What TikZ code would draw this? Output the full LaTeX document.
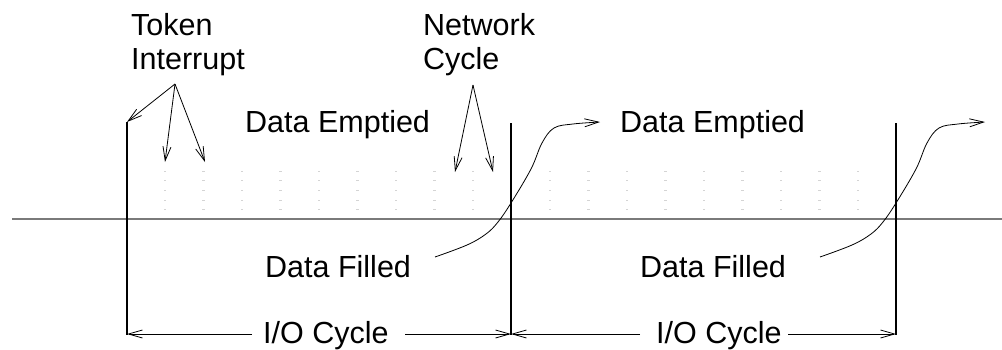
\documentclass[tikz,border=0pt]{standalone}
\usepackage{fontspec}
\setmainfont{Liberation Sans}
\usetikzlibrary{arrows.meta}
\begin{document}
\begin{tikzpicture}[x=1pt,y=-1pt,
  >={Straight Barb[length=14pt,width=8pt]},
  lbl/.style={inner sep=0pt,anchor=base west,align=left,
    font=\fontsize{30.5}{34}\selectfont},
  thinline/.style={line width=0.8pt,black},
  boundary/.style={line width=1.6pt,black},
  axisline/.style={line width=1.6pt,black!52},
  griddot/.style={fill=black!17}]
\useasboundingbox (0,0) rectangle (1002,349);

% faint timing grid in each cycle
\foreach \gx in {165,550}
  \foreach \k in {0,...,8}
    \foreach \gy in {171,180,190,200,209}
      \fill[griddot] (\gx+38.5*\k-1.2,\gy-0.5) rectangle +(2.6,1.1);

% time axis
\coordinate (axL) at (12,219);
\coordinate (axR) at (1002,219);
\draw[axisline] (axL) -- (axR);

% cycle boundaries
\coordinate (b1t) at (127,122);  \coordinate (b1b) at (127,335);
\coordinate (b2t) at (511,123);  \coordinate (b2b) at (511,335);
\coordinate (b3t) at (896,123);  \coordinate (b3b) at (896,335);
\draw[boundary] (b1t) -- (b1b);
\draw[boundary] (b2t) -- (b2b);
\draw[boundary] (b3t) -- (b3b);

% labels (two-line labels are placed by the baseline of their last line)
\node[lbl] (tok)  at (131,69)  {Token\\Interrupt};
\node[lbl] (net)  at (423,69)  {Network\\Cycle};
\node[lbl] (emp1) at (245,132) {Data Emptied};
\node[lbl] (emp2) at (620,132) {Data Emptied};
\node[lbl] (fil1) at (265,277) {Data Filled};
\node[lbl] (fil2) at (640,277) {Data Filled};
\node[lbl] (io1)  at (263,343) {I/O Cycle};
\node[lbl] (io2)  at (656,343) {I/O Cycle};

% token interrupt pointers
\coordinate (tokfoot) at (175,84);
\coordinate (ti1) at (165,162);
\coordinate (ti2) at (205,162);
\draw[thinline,->] (tokfoot) -- (b1t);
\draw[thinline,->] (tokfoot) -- (ti1);
\draw[thinline,->] (tokfoot) -- (ti2);

% network cycle pointers
\coordinate (netfoot) at (473,85);
\coordinate (nc1) at (455,172);
\coordinate (nc2) at (493,172);
\draw[thinline,->] (netfoot) -- (nc1);
\draw[thinline,->] (netfoot) -- (nc2);

% fill-to-empty transitions
\foreach \dx in {0,385}
  \draw[thinline,->] plot[smooth,tension=0.6] coordinates {
    (435+\dx,257) (467+\dx,245) (486+\dx,234) (498+\dx,222)
    (511+\dx,203) (531+\dx,169) (542+\dx,143) (554+\dx,128)
    (573+\dx,124) (600+\dx,122)};

% I/O cycle spans
\coordinate (s1a) at (252,334); \coordinate (s1b) at (405,334);
\coordinate (s2a) at (640,334); \coordinate (s2b) at (788,334);
\draw[thinline,->] (s1a) -- (b1b |- s1a);
\draw[thinline,->] (s1b) -- (b2b |- s1b);
\draw[thinline,->] (s2a) -- (b2b |- s2a);
\draw[thinline,->] (s2b) -- (b3b |- s2b);
\end{tikzpicture}
\end{document}
